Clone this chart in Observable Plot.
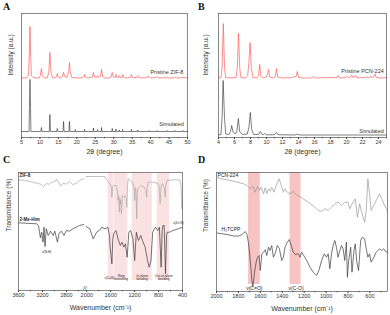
<!DOCTYPE html>
<html><head><meta charset="utf-8">
<script src="https://cdn.jsdelivr.net/npm/d3@7"></script>
<script src="https://cdn.jsdelivr.net/npm/@observablehq/plot@0.6"></script>
<style>
body{margin:0;background:#fff;}
#wrap{position:relative;width:390px;height:315px;overflow:hidden;font-family:"Liberation Sans",Arial,sans-serif;background:#fff;}
.panel{position:absolute;}
.letter{position:absolute;font-family:"Liberation Serif","Times New Roman",serif;font-weight:bold;font-size:10px;line-height:1;color:#111;}
</style></head><body><div id="wrap"></div>
<script>
// ---------- Panel A : PXRD ZIF-8 ----------
const ticksA = [5,10,15,20,25,30,35,40,45,50];
const minorA = [7.5,12.5,17.5,22.5,27.5,32.5,37.5,42.5,47.5];
const xrdA_pristine = [[5,59.5],[5.8,59.5],[6.5,60],[6.9,62],[7.1,80],[7.3,111],[7.5,80],[7.7,62],[8.2,60],[9,59.5],[9.8,59.5],[10.1,62],[10.4,69],[10.7,62],[11.2,59.5],[12,60],[12.4,65],[12.7,85],[13.0,65],[13.4,60],[14.2,59.5],[14.5,61],[14.7,64],[14.9,61],[15.5,59.5],[16.1,61],[16.4,65],[16.7,61],[17.3,60],[17.8,66],[18.0,75],[18.2,66],[18.6,60],[19.4,59.5],[19.6,60.5],[19.8,59.5],[21,59.5],[21.9,60.5],[22.1,63],[22.3,60.5],[23,59.5],[24.2,60.5],[24.5,65],[24.8,60.5],[25.3,60],[25.6,62],[25.9,60],[26.4,61],[26.7,68],[27,61],[27.5,59.5],[28.5,59.5],[29.3,60.5],[29.6,65],[29.9,60.5],[30.3,60],[30.6,63],[30.9,60],[31.3,60],[31.5,62],[31.8,59.8],[32.2,60],[32.4,63],[32.7,60],[33.5,59.5],[34.5,60],[34.8,63],[35.1,60],[36.2,60],[36.5,62],[36.8,60],[38,59.5],[39.6,61],[40,59.5],[41.5,59.8],[41.8,61],[42.1,59.5],[44.2,59.8],[44.5,60.5],[44.8,59.5],[46.5,59.8],[46.7,60.5],[47,59.5],[48.8,60],[50,59.5]];
const xrdA_simulated = [[5,6],[7.05,6],[7.15,30],[7.3,58],[7.45,30],[7.55,6],[10.25,6],[10.4,10],[10.55,6],[12.55,6],[12.7,23],[12.85,6],[14.55,6],[14.7,9],[14.85,6],[16.25,6],[16.4,16],[16.55,6],[17.85,6],[18.0,16],[18.15,6],[19.5,6],[19.6,8],[19.7,6],[22,6],[22.1,8],[22.2,6],[24.4,6],[24.5,9.5],[24.6,6],[25.5,6],[25.6,8],[25.7,6],[26.6,6],[26.7,10],[26.8,6],[29.5,6],[29.6,9],[29.7,6],[30.5,6],[30.6,8.5],[30.7,6],[31.4,6],[31.5,7.5],[31.6,6],[32.3,6],[32.4,8],[32.5,6],[34.7,6],[34.8,8],[34.9,6],[36.4,6],[36.5,7.5],[36.6,6],[39.5,6],[39.6,7],[39.7,6],[41.7,6],[41.8,7],[41.9,6],[44.4,6],[44.5,7],[44.6,6],[46.6,6],[46.7,7],[46.8,6],[48.7,6],[48.8,7],[48.9,6],[50,6]];

// ---------- Panel B : PXRD PCN-224 ----------
const ticksB = [4,6,8,10,12,14,16,18,20,22,24];
const minorB = [5,7,9,11,13,15,17,19,21,23,25];
const xrdB_pristine = [[4,59.5],[4.3,60],[4.45,70],[4.6,114],[4.75,70],[4.9,60],[5.5,59.5],[6.2,60],[6.35,70],[6.5,104],[6.65,70],[6.8,60],[7.4,59.5],[7.65,62],[7.8,75],[7.95,95],[8.1,70],[8.3,60],[8.8,59.5],[9.0,62],[9.15,73],[9.3,61],[9.6,59.5],[10.05,61],[10.25,68],[10.4,60.5],[10.8,59.5],[11.1,61],[11.25,69],[11.4,60.5],[12,59.5],[13,59.8],[13.7,61],[13.85,66],[14,60],[14.5,59.5],[15.5,59.5],[15.9,60.8],[16.1,59.5],[17.5,59.8],[18.8,60],[18.95,62],[19.1,59.5],[19.8,59.8],[20.1,61],[20.3,59.8],[20.5,60.5],[20.65,62.5],[20.8,60],[21.0,60.5],[21.15,62],[21.3,59.8],[22,59.8],[22.6,60.5],[22.8,60],[23.0,61],[23.2,59.8],[23.4,61],[23.55,63.5],[23.7,60],[24.2,59.5],[25,59.8]];
const xrdB_simulated = [[4,2.5],[4.3,3],[4.45,20],[4.58,57],[4.75,20],[4.9,3.5],[5.3,3],[5.5,6],[5.65,12],[5.8,6],[6.1,3.5],[6.3,6],[6.48,19],[6.65,6],[7.0,3],[7.6,3.5],[7.8,10],[7.98,25],[8.15,8],[8.4,3],[9.0,3],[9.23,6],[9.45,3],[9.6,2.8],[9.77,4],[9.95,2.7],[10.8,2.7],[11.05,3],[11.25,5],[11.45,2.8],[13.5,2.5],[13.87,3.2],[14.2,2.5],[25,2.5]];

// ---------- Panel C : FTIR ZIF-8 / 2-Me-Him ----------
const ticksC = [3600,3200,2800,2000,1600,1200,800,400];
const minorC = [3400,3000,2600,1800,1400,1000,600];
const bandsC = [[1641,1547],[1536,1314],[1240,906],[823,617]];
const bandLabelsC = [[1619,"ν(C=N)"],[1424,"Ring\nstretching"],[1073,"In-plane\nbending"],[712,"Out-of-plane\nbending"]];
const zif8High = [[3600,110.7],[3485,110],[3376,108.5],[3267,107],[3220,106],[3186,104],[3158,105.5],[3130,107.3],[3104,106],[3049,108],[2990,109],[2967,111.5],[2940,109],[2896,104.5],[2860,107],[2803,106.5],[2749,109],[2695,106],[2640,107],[2586,110],[2515,112]];
const zif8Low = [[2010,114],[1863,114],[1693,114],[1664,110],[1608,106.7],[1590,104],[1579,93.3],[1566,104],[1552,105],[1511,105],[1490,100],[1477,90],[1465,95],[1455,78.3],[1446,92],[1438,86.7],[1430,90],[1421,76.7],[1405,95],[1381,93.3],[1353,95],[1340,92],[1330,83.3],[1318,105],[1307,111.7],[1268,110],[1228,106.7],[1210,103],[1199,90],[1190,102],[1182,103],[1174,95],[1165,71.7],[1155,98],[1143,101.7],[1097,105],[1041,103.3],[1012,100],[1000,93.3],[988,104],[973,108.3],[898,108.3],[813,107.3],[790,104],[774,86.7],[760,103],[740,106.7],[711,105],[700,102],[689,93.3],[678,105],[660,110],[558,110.7],[446,110.7],[425,105],[417,90],[410,81.7],[400,88]];
const meimHigh = [[3600,67.7],[3485,67.3],[3294,66.7],[3267,65],[3235,52.7],[3213,58.3],[3191,48.3],[3175,63.3],[3158,44],[3137,61.7],[3104,55],[3066,59.3],[3022,55],[2995,59.3],[2951,48.3],[2924,57.3],[2885,59.3],[2842,55],[2803,60],[2749,59.3],[2695,61.7],[2640,63.3],[2586,65],[2515,66]];
const meimLow = [[2010,64],[1948,61.7],[1892,51.7],[1834,58.3],[1778,60.7],[1749,63.3],[1693,61.7],[1647,63.3],[1620,55],[1608,43.3],[1579,26.7],[1565,50],[1552,56.7],[1511,60],[1477,51.7],[1438,45],[1409,48.3],[1381,43.3],[1353,46.7],[1324,33.3],[1296,58.3],[1268,60],[1228,51.7],[1199,30],[1171,58.3],[1137,50],[1097,55],[1069,50],[1024,43.3],[984,30],[956,23.3],[927,30],[898,58.3],[854,63.3],[813,60],[786,63.3],[757,23.3],[740,60],[728,65],[706,65],[684,16.7],[666,55],[655,58.3],[616,58.3],[558,60],[473,61.7],[400,63.3]];

// ---------- Panel D : FTIR PCN-224 / H2TCPP ----------
const ticksD = [2000,1800,1600,1400,1200,1000,800,600];
const minorD = [1900,1700,1500,1300,1100,900,700,500];
const bandsD = [[1707,1601],[1329,1229]];
const pcn224 = [[1994,113.7],[1843,110.3],[1752,107.7],[1722,106],[1692,102.7],[1677,105],[1662,104.3],[1647,99.3],[1626,105],[1608,101],[1593,104.3],[1571,97.7],[1556,103.7],[1541,97.7],[1526,102.7],[1511,100.3],[1496,104.3],[1475,99.3],[1450,107.7],[1429,112.7],[1414,107.7],[1390,99.3],[1375,102.7],[1354,99.3],[1330,97.7],[1299,100.3],[1283,97.7],[1223,93.7],[1162,89.3],[1102,84.3],[1072,81],[1041,80.3],[1011,82.7],[981,81],[951,84.3],[921,87.7],[891,89.3],[860,86],[830,89.3],[800,89.3],[785,82.7],[755,89.3],[734,92.7],[715,74.3],[694,87.7],[679,81],[649,69.3],[634,81],[619,112.7],[604,97.7],[589,81],[558,87.7],[528,94.3],[513,97.7],[492,92.7],[474,87.7],[452,82.7],[440,80]];
const h2tcpp = [[1994,58.5],[1903,57],[1843,55.5],[1797,55.5],[1767,57],[1737,60],[1722,57],[1707,47.7],[1692,31],[1677,11],[1668,5],[1653,19.3],[1638,29.3],[1626,34.3],[1611,36],[1601,21],[1586,37.7],[1571,39.3],[1556,41.7],[1541,36],[1526,44.3],[1511,41],[1496,46],[1481,34.3],[1466,37.7],[1445,46],[1426,42.7],[1405,31],[1390,34.3],[1375,44.3],[1354,49.3],[1336,52],[1314,44.3],[1299,39.3],[1283,37],[1253,37.7],[1238,34.3],[1223,39.3],[1208,36.7],[1177,31],[1147,24.3],[1117,19.3],[1087,16],[1066,21],[1041,31],[1017,37.7],[996,34.3],[981,37.7],[966,22.7],[951,37.7],[936,46],[921,51],[906,44.3],[891,34.3],[875,41],[860,46],[845,42.7],[830,31],[815,49.3],[806,14.3],[794,31],[776,44.3],[764,19.3],[746,41],[734,47.7],[722,31],[704,21],[685,51],[670,54.3],[649,52.7],[634,42.7],[619,34.3],[604,37.7],[589,29.3],[564,34.3],[543,39.3],[513,42.7],[492,41],[474,42.7],[452,39.3],[440,40]];

// ---------- helpers ----------
const wrap = document.getElementById("wrap");
const FONT = '"Liberation Sans", Arial, sans-serif';
const px = d => d[0], py = d => d[1];
function addPanel(left, top, width, height, m, xOpt, yDomain, marks) {
  const svg = Plot.plot({
    width, height,
    marginLeft: m[0], marginRight: m[1], marginTop: m[2], marginBottom: m[3],
    x: xOpt, y: {domain: yDomain, axis: null},
    style: {background: "transparent", fontFamily: FONT, fontSize: "5.5px", color: "#222", overflow: "visible"},
    marks
  });
  const div = document.createElement("div");
  div.className = "panel";
  div.style.left = left + "px"; div.style.top = top + "px";
  div.style.width = width + "px"; div.style.height = height + "px";
  div.appendChild(svg);
  wrap.appendChild(div);
}
function letter(t, l, tp) {
  const s = document.createElement("div");
  s.className = "letter"; s.textContent = t;
  s.style.left = l + "px"; s.style.top = tp + "px";
  wrap.appendChild(s);
}
const axes = (ticks, minor) => [
  Plot.axisX({ticks, tickSize: 2, tickPadding: 1, tickFormat: d => String(d), label: null, fontSize: 5.5, stroke: "#444", fill: "#333"}),
  Plot.axisX({ticks: minor, tickSize: 1.2, tickFormat: () => "", label: null, stroke: "#444"})
];
const ylab = (t, dx) => Plot.text([t], {text: d => d, frameAnchor: "left", rotate: -90, dx, fontSize: 6.5, fill: "#333"});
const xlab = (t, dy) => Plot.text([t], {text: d => d, frameAnchor: "bottom", dy, fontSize: 7, fill: "#333"});

// Panel A
addPanel(0, 0, 195, 160, [21, 8, 13, 23], {domain: [5, 50]}, [0, 124], [
  Plot.line(xrdA_simulated, {x: px, y: py, stroke: "#2a2a2a", strokeWidth: 0.6}),
  Plot.line(xrdA_pristine, {x: px, y: py, stroke: "#ff5c5c", strokeWidth: 0.7}),
  Plot.text(["Pristine ZIF-8"], {text: d => d, x: 48.9, y: 64, textAnchor: "end", lineAnchor: "bottom", fontSize: 5.5, fill: "#333"}),
  Plot.text(["Simulated"], {text: d => d, x: 49, y: 11.5, textAnchor: "end", lineAnchor: "bottom", fontSize: 5.5, fill: "#333"}),
  Plot.frame({stroke: "#555", strokeWidth: 0.7}),
  ...axes(ticksA, minorA),
  ylab("Intensity (a.u.)", -11),
  xlab("2θ (degree)", 16)
]);

// Panel B
addPanel(195, 0, 195, 160, [23, 4, 13, 23], {domain: [4, 25]}, [0, 124], [
  Plot.line(xrdB_simulated, {x: px, y: py, stroke: "#2a2a2a", strokeWidth: 0.6}),
  Plot.line(xrdB_pristine, {x: px, y: py, stroke: "#ff5c5c", strokeWidth: 0.7}),
  Plot.text(["Pristine PCN-224"], {text: d => d, x: 24.66, y: 65, textAnchor: "end", lineAnchor: "bottom", fontSize: 5.5, fill: "#333"}),
  Plot.text(["Simulated"], {text: d => d, x: 24.66, y: 4.5, textAnchor: "end", lineAnchor: "bottom", fontSize: 5.5, fill: "#333"}),
  Plot.frame({stroke: "#555", strokeWidth: 0.7}),
  ...axes(ticksB, minorB),
  ylab("Intensity (a.u.)", -13),
  xlab("2θ (degree)", 16)
]);

// Panel C (broken wavenumber axis, piecewise scale)
addPanel(0, 158, 195, 157, [18, 13, 14, 25],
  {type: "linear", domain: [3600, 2500, 2020, 400], range: [18, 84, 85, 182]}, [0, 118], [
  Plot.rect(bandsC, {x1: d => d[0], x2: d => d[1], y1: 10, y2: 117, fill: "#fbe2e2"}),
  Plot.line(zif8High, {x: px, y: py, stroke: "#a8a8a8", strokeWidth: 0.7}),
  Plot.line(zif8Low, {x: px, y: py, stroke: "#a8a8a8", strokeWidth: 0.7}),
  Plot.line(meimHigh, {x: px, y: py, stroke: "#3a3a3a", strokeWidth: 0.7}),
  Plot.line(meimLow, {x: px, y: py, stroke: "#3a3a3a", strokeWidth: 0.7}),
  Plot.text(["ZIF-8"], {text: d => d, x: 3585, y: 115, textAnchor: "start", fontSize: 4.5, fontWeight: "bold", fill: "#222"}),
  Plot.text(["2-Me-Him"], {text: d => d, x: 3585, y: 71, textAnchor: "start", fontSize: 4.5, fontWeight: "bold", fill: "#222"}),
  Plot.text(["ν(N-H)"], {text: d => d, x: 3130, y: 38.3, fontSize: 3.2, fill: "#222"}),
  Plot.text(["ν(Zn-N)"], {text: d => d, x: 470, y: 68, fontSize: 3.2, fill: "#222"}),
  Plot.text(bandLabelsC, {text: d => d[1], x: d => d[0], y: 13, lineAnchor: "middle", fontSize: 3.2, lineHeight: 1.1, fill: "#222"}),
  Plot.frame({stroke: "#555", strokeWidth: 0.7}),
  ...axes(ticksC, minorC),
  Plot.text(["//"], {text: d => d, x: () => 2260, frameAnchor: "bottom", dy: -1, fontSize: 6, fill: "#333"}),
  ylab("Transmittance (%)", -10),
  xlab("Wavenumber (cm⁻¹)", 19)
]);

// Panel D
addPanel(195, 158, 195, 157, [21, 3, 14, 24], {domain: [2000, 440]}, [0, 119], [
  Plot.rect(bandsD, {x1: d => d[0], x2: d => d[1], y1: 7, y2: 119, fill: "#f8c3c3"}),
  Plot.line(pcn224, {x: px, y: py, stroke: "#9a9a9a", strokeWidth: 0.7}),
  Plot.line(h2tcpp, {x: px, y: py, stroke: "#3a3a3a", strokeWidth: 0.7}),
  Plot.text(["PCN-224"], {text: d => d, x: 1990, y: 116, textAnchor: "start", fontSize: 5, fill: "#222"}),
  Plot.text(["H₂TCPP"], {text: d => d, x: 1955, y: 62, textAnchor: "start", fontSize: 5, fill: "#222"}),
  Plot.text(["ν(C=O)"], {text: d => d, x: 1655, y: 2.8, fontSize: 5, fill: "#222"}),
  Plot.text(["ν(C-O)"], {text: d => d, x: 1274, y: 2.8, fontSize: 5, fill: "#222"}),
  Plot.frame({stroke: "#555", strokeWidth: 0.7}),
  ...axes(ticksD, minorD),
  ylab("Transmittance (%)", -11),
  xlab("Wavenumber (cm⁻¹)", 19)
]);

letter("A", 3, 2);
letter("B", 198, 2);
letter("C", 3, 155);
letter("D", 198, 155);
</script></body></html>
